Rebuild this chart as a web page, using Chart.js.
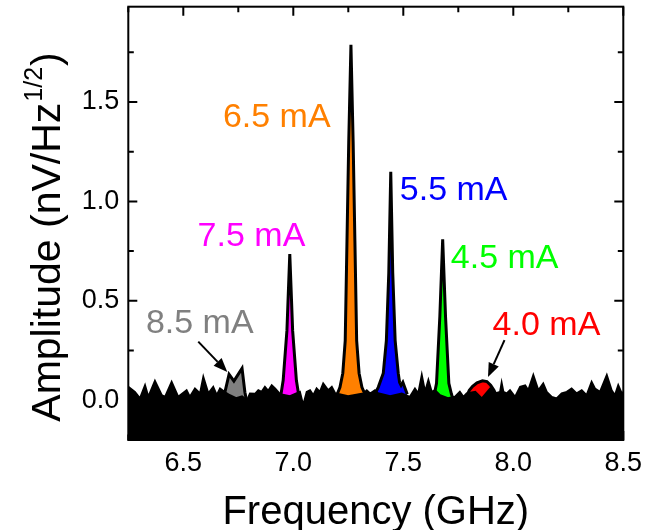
<!DOCTYPE html>
<html><head><meta charset="utf-8">
<script src="https://cdn.jsdelivr.net/npm/chart.js@4.4.1/dist/chart.umd.min.js"></script>
<style>html,body{margin:0;padding:0;background:#fff;}canvas{display:block;}</style>
</head><body>
<canvas id="c" width="650" height="530"></canvas>
<script>
// ---- tick values ----
const xTicks = [6.5, 7.0, 7.5, 8.0, 8.5];
const xMinorTicks = [6.25, 6.75, 7.25, 7.75, 8.25];
const yTicks = [0.0, 0.5, 1.0, 1.5];
const yMinorTicks = [0.25, 0.75, 1.25, 1.75];

// ---- background noise floor (black) ----
const noiseFreq = [6.250,6.280,6.303,6.326,6.341,6.371,6.402,6.417,6.447,6.477,6.515,6.530,6.553,6.576,6.591,6.614,6.636,6.652,6.667,6.690,6.712,6.740,6.767,6.790,6.803,6.826,6.841,6.856,6.871,6.886,6.902,6.917,6.940,6.985,7.030,7.045,7.061,7.076,7.091,7.106,7.121,7.136,7.159,7.175,7.190,7.249,7.318,7.334,7.349,7.371,7.385,7.440,7.493,7.530,7.553,7.568,7.584,7.599,7.614,7.629,7.644,7.667,7.703,7.734,7.757,7.773,7.788,7.827,7.857,7.895,7.917,7.940,7.947,7.955,7.970,7.985,8.008,8.031,8.054,8.068,8.091,8.114,8.136,8.152,8.175,8.197,8.220,8.243,8.265,8.288,8.311,8.333,8.356,8.371,8.394,8.425,8.447,8.462,8.477,8.493,8.500];
const noiseAmp  = [0.067,0.042,0.009,0.075,0.017,0.097,0.025,0.017,0.092,0.017,0.050,0.017,0.059,0.034,0.117,0.034,0.067,0.025,0.059,0.040,0.025,0.010,0.020,0.000,0.034,0.032,0.050,0.042,0.067,0.047,0.075,0.059,0.030,0.020,0.042,-0.025,0.042,0.050,0.025,0.059,0.042,0.084,0.050,0.067,0.035,0.020,0.034,0.050,0.034,0.050,0.035,0.020,0.034,0.017,0.059,0.034,0.126,0.042,0.101,0.042,0.050,0.025,0.010,0.017,0.042,0.017,0.034,0.042,0.009,0.059,0.034,0.042,0.087,0.042,0.034,0.050,0.017,0.067,0.075,0.050,0.126,0.050,0.084,0.042,0.017,0.009,0.034,0.042,0.059,0.034,0.050,0.025,0.092,0.059,0.042,0.126,0.050,0.025,0.075,0.034,0.042];

// ---- resonance peaks for each bias current ----
const freq85 = [6.685,6.689,6.708,6.730,6.767,6.780,6.789];
const amp85  = [0.030,0.040,0.130,0.096,0.160,0.040,-0.010];
const freq75 = [6.940,6.944,6.954,6.971,6.984,6.997,7.014,7.024,7.030];
const amp75  = [0.010,0.030,0.100,0.350,0.735,0.350,0.100,0.030,0.010];
const freq65 = [7.196,7.212,7.225,7.236,7.244,7.252,7.262,7.272,7.280,7.288,7.299,7.312,7.330];
const amp65  = [0.020,0.065,0.136,0.300,0.800,1.300,1.787,1.300,0.800,0.300,0.136,0.065,0.020];
const freq55 = [7.370,7.386,7.409,7.423,7.434,7.443,7.452,7.463,7.477,7.483,7.490,7.498,7.508,7.518];
const amp55  = [0.030,0.065,0.136,0.300,0.640,1.149,0.640,0.300,0.136,0.090,0.075,0.090,0.060,0.030];
const freq45 = [7.635,7.641,7.651,7.666,7.679,7.692,7.707,7.719,7.725];
const amp45  = [0.010,0.030,0.085,0.420,0.809,0.420,0.085,0.030,0.010];
const freq40 = [7.785,7.788,7.800,7.815,7.835,7.860,7.880,7.897,7.912,7.925,7.930];
const amp40  = [0.005,0.020,0.050,0.070,0.088,0.098,0.094,0.075,0.050,0.020,0.005];

const seriesNames = ['8.5 mA','7.5 mA','6.5 mA','5.5 mA','4.5 mA','4.0 mA'];

// ---- styling / annotation placement (kept apart from the data) ----
const FONT = "'Liberation Sans', Arial, sans-serif";
const seriesColors = ['#808080','#FF00FF','#FF8000','#0000FF','#00FF00','#FF0000'];
const labelAnchors = [ // left/baseline of each label, in data units
  {f:6.330, v:0.337},
  {f:6.565, v:0.775},
  {f:6.680, v:1.374},
  {f:7.484, v:1.007},
  {f:7.716, v:0.664},
  {f:7.906, v:0.327}
];
const arrows = [
  {from:[6.568,0.295], to:[6.700,0.142]},
  {from:[7.960,0.302], to:[7.885,0.117]}
];

const pts = (fs, as) => fs.map((f, i) => ({x: f, y: as[i]}));
const peakSets = [[freq85,amp85],[freq75,amp75],[freq65,amp65],[freq55,amp55],[freq45,amp45],[freq40,amp40]];

const datasets = [{
  label: 'noise',
  data: pts(noiseFreq, noiseAmp),
  borderColor: '#000', backgroundColor: '#000',
  borderWidth: 2, fill: 'start'
}];
peakSets.forEach((p, i) => datasets.push({
  label: seriesNames[i],
  data: pts(p[0], p[1]),
  borderColor: '#000', backgroundColor: seriesColors[i],
  borderWidth: 3, fill: 'start'
}));

const decor = {
  id: 'decor',
  afterDatasetsDraw(chart) {
    const {ctx, chartArea: a, scales: {x, y}} = chart;
    ctx.save();
    ctx.strokeStyle = '#000'; ctx.lineWidth = 2;
    ctx.strokeRect(a.left, a.top, a.right - a.left, a.bottom - a.top);
    const tick = (vals, len) => {
      vals.forEach(v => {
        const px = x.getPixelForValue(v);
        ctx.beginPath();
        ctx.moveTo(px, a.top); ctx.lineTo(px, a.top + len);
        ctx.moveTo(px, a.bottom); ctx.lineTo(px, a.bottom - len);
        ctx.stroke();
      });
    };
    const ytick = (vals, len) => {
      vals.forEach(v => {
        const py = y.getPixelForValue(v);
        ctx.beginPath();
        ctx.moveTo(a.left, py); ctx.lineTo(a.left + len, py);
        ctx.moveTo(a.right, py); ctx.lineTo(a.right - len, py);
        ctx.stroke();
      });
    };
    tick(xTicks, 9); tick(xMinorTicks, 5.5);
    ytick(yTicks, 9); ytick(yMinorTicks, 5.5);

    ctx.font = '34px ' + FONT;
    ctx.textAlign = 'left'; ctx.textBaseline = 'alphabetic';
    seriesNames.forEach((t, i) => {
      ctx.fillStyle = seriesColors[i];
      ctx.fillText(t, x.getPixelForValue(labelAnchors[i].f), y.getPixelForValue(labelAnchors[i].v));
    });

    ctx.strokeStyle = '#000'; ctx.fillStyle = '#000'; ctx.lineWidth = 2;
    arrows.forEach(ar => {
      const x1 = x.getPixelForValue(ar.from[0]), y1 = y.getPixelForValue(ar.from[1]);
      const x2 = x.getPixelForValue(ar.to[0]), y2 = y.getPixelForValue(ar.to[1]);
      const ang = Math.atan2(y2 - y1, x2 - x1);
      const hl = 14, hw = 5.5;
      const bx = x2 - hl * Math.cos(ang), by = y2 - hl * Math.sin(ang);
      ctx.beginPath(); ctx.moveTo(x1, y1); ctx.lineTo(bx, by); ctx.stroke();
      ctx.beginPath();
      ctx.moveTo(x2, y2);
      ctx.lineTo(bx + hw * Math.sin(ang), by - hw * Math.cos(ang));
      ctx.lineTo(bx - hw * Math.sin(ang), by + hw * Math.cos(ang));
      ctx.closePath(); ctx.fill();
    });

    ctx.fillStyle = '#000';
    ctx.font = '40px ' + FONT;
    ctx.textAlign = 'center';
    ctx.fillText('Frequency (GHz)', (a.left + a.right) / 2, 524);

    ctx.save();
    ctx.translate(60, 237);
    ctx.rotate(-Math.PI / 2);
    const main = 'Amplitude (nV/Hz', sup = '1/2', close = ')';
    ctx.font = '41px ' + FONT;
    const w1 = ctx.measureText(main).width, w3 = ctx.measureText(close).width;
    ctx.font = '25px ' + FONT;
    const w2 = ctx.measureText(sup).width;
    let sx = -(w1 + w2 + w3 + 2) / 2;
    ctx.textAlign = 'left';
    ctx.font = '41px ' + FONT; ctx.fillText(main, sx, 0); sx += w1 + 1;
    ctx.font = '25px ' + FONT; ctx.fillText(sup, sx, -18); sx += w2 + 1;
    ctx.font = '41px ' + FONT; ctx.fillText(close, sx, 0);
    ctx.restore();

    ctx.restore();
  }
};

new Chart(document.getElementById('c'), {
  type: 'line',
  data: {datasets},
  options: {
    responsive: false, animation: false, devicePixelRatio: 1,
    layout: {padding: {left: 0, right: 26.7, top: 6.7, bottom: 0}},
    elements: {point: {radius: 0, hoverRadius: 0}, line: {tension: 0, borderJoinStyle: 'miter'}},
    plugins: {legend: {display: false}, tooltip: {enabled: false}},
    scales: {
      x: {
        type: 'linear', min: 6.25, max: 8.5,
        afterFit(s) { s.height = 90; s.paddingLeft = 0; s.paddingRight = 0; },
        afterBuildTicks(s) { s.ticks = xTicks.map(v => ({value: v})); },
        grid: {display: false, drawTicks: false}, border: {display: false},
        ticks: {color: '#000', font: {family: FONT, size: 27}, padding: 7, maxRotation: 0, autoSkip: false,
                callback: v => Number(v).toFixed(1)}
      },
      y: {
        type: 'linear', min: -0.2, max: 1.979,
        afterFit(s) { s.width = 128.3; s.paddingTop = 0; s.paddingBottom = 0; },
        afterBuildTicks(s) { s.ticks = yTicks.map(v => ({value: v})); },
        grid: {display: false, drawTicks: false}, border: {display: false},
        ticks: {color: '#000', font: {family: FONT, size: 27}, padding: 9,
                callback: v => Number(v).toFixed(1)}
      }
    }
  },
  plugins: [decor]
});
</script>
</body></html>
